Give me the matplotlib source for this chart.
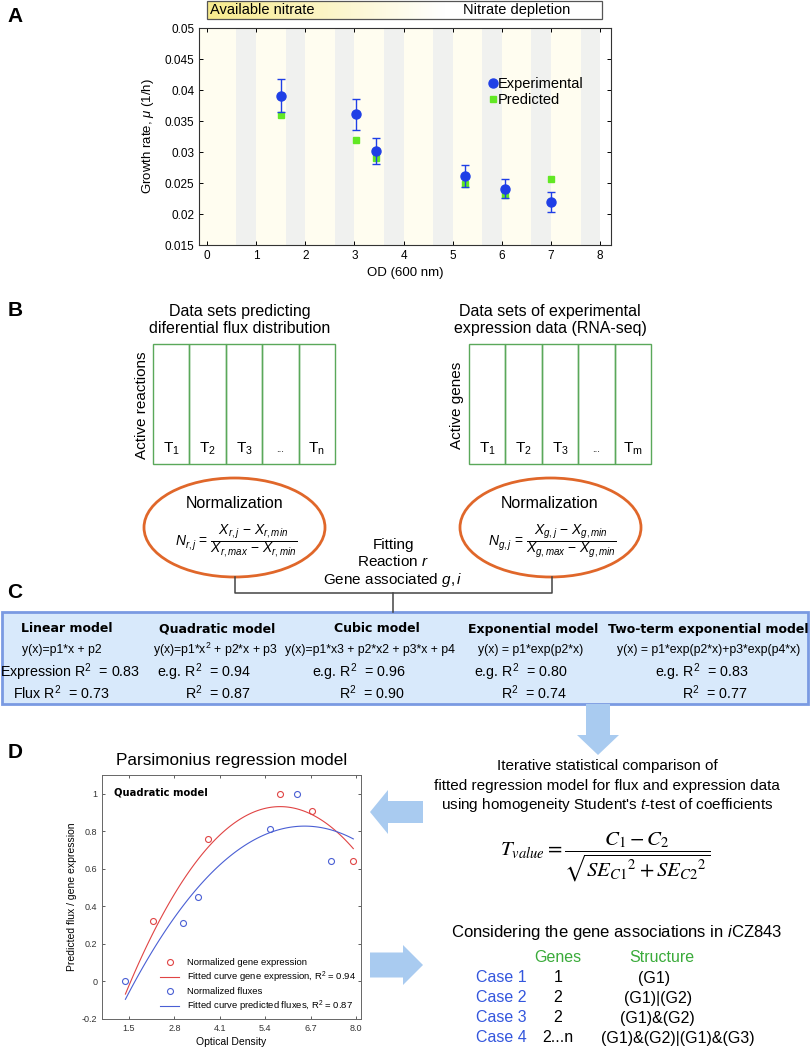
import numpy as np
import matplotlib
matplotlib.use('Agg')
import matplotlib.pyplot as plt
from matplotlib.patches import Rectangle, Ellipse, FancyArrow
from matplotlib.lines import Line2D

plt.rcParams['font.family'] = ['Liberation Sans', 'DejaVu Sans']
plt.rcParams['mathtext.fontset'] = 'custom'
plt.rcParams['mathtext.rm'] = 'Liberation Sans'
plt.rcParams['mathtext.it'] = 'Liberation Sans:italic'
plt.rcParams['mathtext.bf'] = 'Liberation Sans:bold'

# ---- panel A data (growth rate vs OD)
od = [1.5, 3.03, 3.44, 5.25, 6.07, 7.0]
mu_exp = [0.0391, 0.0361, 0.0301, 0.0261, 0.0241, 0.0220]
mu_err = [0.0027, 0.0025, 0.0021, 0.0018, 0.0015, 0.0016]
mu_pred = [0.0359, 0.0319, 0.0290, 0.0249, 0.0231, 0.0257]
a_xticks = [0, 1, 2, 3, 4, 5, 6, 7, 8]
a_yticks = [0.015, 0.02, 0.025, 0.03, 0.035, 0.04, 0.045, 0.05]
a_yticklabels = ['0.015', '0.02', '0.025', '0.03', '0.035', '0.04', '0.045', '0.05']

# ---- panel C models
model_names = ['Linear model', 'Quadratic model', 'Cubic model', 'Exponential model',
               'Two-term exponential model']
model_eqs = ['y(x)=p1*x + p2', 'y(x)=p1*x$^2$ + p2*x + p3', 'y(x)=p1*x3 + p2*x2 + p3*x + p4',
             'y(x) = p1*exp(p2*x)', 'y(x) = p1*exp(p2*x)+p3*exp(p4*x)']
r2_expr = [0.83, 0.94, 0.96, 0.80, 0.83]
r2_flux = [0.73, 0.87, 0.90, 0.74, 0.77]

# ---- panel D data (quadratic model)
gene_x = [2.19, 3.77, 5.81, 6.75, 7.91]
gene_y = [0.32, 0.76, 1.0, 0.91, 0.64]
flux_x = [1.38, 3.04, 3.49, 5.54, 6.32, 7.27]
flux_y = [0.0, 0.31, 0.45, 0.81, 1.0, 0.64]
# fitted curves
curve_x = [1.4, 2.8, 4.1, 5.4, 6.7, 7.92]
curve_gene = [-0.07, 0.47, 0.78, 0.92, 0.89, 0.71]
curve_flux = [-0.095, 0.34, 0.62, 0.785, 0.825, 0.76]
d_xticks = [1.5, 2.8, 4.1, 5.4, 6.7, 8.0]
d_yticks = [-0.2, 0, 0.2, 0.4, 0.6, 0.8, 1]

cases = ['Case 1', 'Case 2', 'Case 3', 'Case 4']
genes = ['1', '2', '2', '2...n']
structures = ['(G1)', '(G1)|(G2)', '(G1)&(G2)', '(G1)&(G2)|(G1)&(G3)']

W, H = 810, 1048
fig = plt.figure(figsize=(W / 100, H / 100), dpi=100)

# overlay in pixel coords (top-left origin) for the diagram parts
ov = fig.add_axes([0, 0, 1, 1])
ov.axis('off')

def ax_rect(x0, y0, x1, y1):
    return [x0 / W, 1 - y1 / H, (x1 - x0) / W, (y1 - y0) / H]

def letter(x, y, s):
    ov.text(x, y, s, fontsize=15, fontweight='bold', ha='center', va='center')

blue_a = '#1f3fe6'
green_a = '#62e824'

# ================= A =================
letter(15, 17, 'A')
grad = np.linspace(0, 1, 300)
fade = np.clip(grad / 0.6, 0, 1)
yel = np.array([0.97, 0.92, 0.55])
img = yel[None, :] * (1 - fade[:, None]) + fade[:, None]
ov.imshow(img[None, :, :], extent=(207, 602, 19, 1), aspect='auto', zorder=1)
ov.add_patch(Rectangle((207, 1), 395, 18, fill=False, ec='#555555', lw=0.9, zorder=2))
ov.text(210, 10, 'Available nitrate', fontsize=10.5, va='center', ha='left', zorder=3)
ov.text(517, 10, 'Nitrate depletion', fontsize=10.5, va='center', ha='center', zorder=3)

axA = fig.add_axes(ax_rect(199, 28, 611, 245))
for k in range(8):
    axA.axvspan(k - (0.16 if k == 0 else 0), k + 0.6, color='#fffdf0', lw=0, zorder=0)
    axA.axvspan(k + 0.6, k + 1.0, color='#f0f1ef', lw=0, zorder=0)
axA.plot(od, mu_pred, 's', color=green_a, ms=4.5, zorder=2)
axA.errorbar(od, mu_exp, yerr=mu_err, fmt='o', color=blue_a, ms=6.5, capsize=3,
             elinewidth=1, capthick=1, zorder=3)
axA.set_xlim(-0.16, 8.22)
axA.set_ylim(0.015, 0.05)
axA.set_xticks(a_xticks)
axA.set_yticks(a_yticks)
axA.set_yticklabels(a_yticklabels)
axA.tick_params(direction='in', top=True, right=True, labelsize=8.5, length=3, width=0.7)
for s in axA.spines.values():
    s.set_color('#333333')
    s.set_linewidth(0.8)
axA.set_xlabel('OD (600 nm)', fontsize=9.5, labelpad=4)
axA.set_ylabel('Growth rate, $\\mu$ (1/h)', fontsize=9.5, labelpad=6)
hA = [Line2D([], [], marker='o', ls='none', color=blue_a, ms=6.5),
      Line2D([], [], marker='s', ls='none', color=green_a, ms=4.5)]
axA.legend(hA, ['Experimental', 'Predicted'], frameon=False, fontsize=10.5,
           handlelength=0.5, handletextpad=0.1, labelspacing=0.15,
           loc='upper left', bbox_to_anchor=(0.69, 0.8), borderaxespad=0)

# ================= B =================
letter(15, 310, 'B')
ov.text(240, 320, 'Data sets predicting\ndiferential flux distribution', fontsize=11.5,
        ha='center', va='center', linespacing=1.15)
ov.text(550, 320, 'Data sets of experimental\nexpression data (RNA-seq)', fontsize=11.5,
        ha='center', va='center', linespacing=1.15)
cell_w = 36.4
tl_left = ['T$_1$', 'T$_2$', 'T$_3$', '...', 'T$_\\mathrm{n}$']
tl_right = ['T$_1$', 'T$_2$', 'T$_3$', '...', 'T$_\\mathrm{m}$']
for bx, labs in [(153, tl_left), (469, tl_right)]:
    for i in range(5):
        ov.add_patch(Rectangle((bx + i * cell_w, 344), cell_w, 120, fill=False,
                               ec='#5aa85a', lw=1))
        ov.text(bx + (i + 0.5) * cell_w, 449, labs[i], ha='center', va='center',
                fontsize=11 if labs[i] != '...' else 7)
ov.text(142, 405, 'Active reactions', rotation=90, ha='center', va='center', fontsize=11)
ov.text(457, 405, 'Active genes', rotation=90, ha='center', va='center', fontsize=11)

orange = '#e0672a'
ov.add_patch(Ellipse((234.5, 527.5), 181, 99, fill=False, ec=orange, lw=2))
ov.add_patch(Ellipse((550.5, 527.5), 181, 99, fill=False, ec=orange, lw=2))
ov.text(235, 503, 'Normalization', fontsize=11.5, ha='center', va='center')
ov.text(550, 503, 'Normalization', fontsize=11.5, ha='center', va='center')
ov.text(236, 541, r'$N_{r,j}$ = $\dfrac{X_{r,j}\ \mathrm{-}\ X_{r,min}}{X_{r,max}\ \mathrm{-}\ X_{r,min}}$',
        fontsize=10, ha='center', va='center')
ov.text(552, 541, r'$N_{g,j}$ = $\dfrac{X_{g,j}\ \mathrm{-}\ X_{g,min}}{X_{g,max}\ \mathrm{-}\ X_{g,min}}$',
        fontsize=10, ha='center', va='center')
ov.text(393, 545, 'Fitting', fontsize=11, ha='center', va='center')
ov.text(393, 562, 'Reaction $r$', fontsize=11, ha='center', va='center')
ov.text(393, 580, 'Gene associated $g,i$', fontsize=11, ha='center', va='center')
lc = '#444444'
ov.plot([235, 235, 552, 552], [577, 593, 593, 577], color=lc, lw=1.1)
ov.plot([393, 393], [593, 612], color=lc, lw=1.1)

# ================= C =================
letter(15, 593, 'C')
ov.add_patch(Rectangle((2, 612), 806, 92, fc='#d8e9fb', ec='#7a9ae2', lw=2, zorder=1))
title_x = [67, 217, 377, 533, 708]
eq_x = [62, 215, 370, 531, 709]
r2_right = [None, 251, 405, 567, 748]
for i in range(5):
    ov.text(title_x[i], 629, model_names[i], fontsize=9, fontweight='bold',
            family='DejaVu Sans', ha='center', va='center', zorder=3)
    ov.text(eq_x[i], 650, model_eqs[i], fontsize=8.8, ha='center', va='center', zorder=3)
    if i == 0:
        ov.text(70, 672, 'Expression R$^2$  = %.2f' % r2_expr[i], fontsize=10.3,
                ha='center', va='center', zorder=3)
        ov.text(61, 693, 'Flux R$^2$  = %.2f' % r2_flux[i], fontsize=10.3,
                ha='center', va='center', zorder=3)
    else:
        ov.text(r2_right[i], 672, 'e.g. R$^2$  = %.2f' % r2_expr[i], fontsize=10.3,
                ha='right', va='center', zorder=3)
        ov.text(r2_right[i], 693, 'R$^2$  = %.2f' % r2_flux[i], fontsize=10.3,
                ha='right', va='center', zorder=3)

arrow_c = '#a9cbf0'
ov.add_patch(FancyArrow(598, 704, 0, 51, width=24, head_width=42, head_length=20,
                        length_includes_head=True, fc=arrow_c, ec='none'))
ov.add_patch(FancyArrow(423, 812, -53, 0, width=22, head_width=44, head_length=18,
                        length_includes_head=True, fc=arrow_c, ec='none'))
ov.add_patch(FancyArrow(370, 965, 53, 0, width=25, head_width=40, head_length=20,
                        length_includes_head=True, fc=arrow_c, ec='none'))

# ================= D =================
letter(15, 752, 'D')
ov.text(232, 760, 'Parsimonius regression model', fontsize=12.3, ha='center', va='center')

red_d = '#e04444'
blue_d = '#4a5fd4'
axD = fig.add_axes(ax_rect(102, 775, 361, 1019))
xs = np.linspace(curve_x[0], curve_x[-1], 120)
pg = np.polyfit(curve_x, curve_gene, 2)
pf = np.polyfit(curve_x, curve_flux, 2)
axD.plot(gene_x, gene_y, 'o', mfc='none', mec=red_d, ms=4.3, mew=0.8)
axD.plot(xs, np.polyval(pg, xs), color=red_d, lw=0.8)
axD.plot(flux_x, flux_y, 'o', mfc='none', mec=blue_d, ms=4.3, mew=0.8)
axD.plot(xs, np.polyval(pf, xs), color=blue_d, lw=0.8)
axD.set_xlim(0.73, 8.14)
axD.set_ylim(-0.2, 1.1)
axD.set_xticks(d_xticks)
axD.set_xticklabels(['%.1f' % v for v in d_xticks])
axD.set_yticks(d_yticks)
axD.set_yticklabels(['-0.2', '0', '0.2', '0.4', '0.6', '0.8', '1'])
axD.tick_params(direction='in', top=True, right=True, labelsize=6.5, length=2.5,
                width=0.6, colors='#444444', labelcolor='#333333')
for s in axD.spines.values():
    s.set_color('#666666')
    s.set_linewidth(0.7)
axD.set_xlabel('Optical Density', fontsize=7.5, labelpad=3)
axD.set_ylabel('Predicted flux / gene expression', fontsize=7.5, labelpad=3)
axD.text(0.045, 0.93, 'Quadratic model', transform=axD.transAxes, fontsize=7.2,
         fontweight='bold', family='DejaVu Sans', va='center')
hD = [Line2D([], [], marker='o', ls='none', mfc='none', mec=red_d, ms=4.3, mew=0.8),
      Line2D([], [], color=red_d, lw=0.8),
      Line2D([], [], marker='o', ls='none', mfc='none', mec=blue_d, ms=4.3, mew=0.8),
      Line2D([], [], color=blue_d, lw=0.8)]
axD.legend(hD, ['Normalized gene expression', 'Fitted curve gene expression, R$^2$ = 0.94',
                'Normalized fluxes', 'Fitted curve predicted fluxes, R$^2$ = 0.87'],
           frameon=False, fontsize=6.8, loc='lower right', borderaxespad=0.15,
           handlelength=2.0, labelspacing=0.25)

ov.text(607, 766, 'Iterative statistical comparison of', fontsize=11, ha='center', va='center')
ov.text(607, 786, 'fitted regression model for flux and expression data', fontsize=11,
        ha='center', va='center')
ov.text(607, 805, "using homogeneity Student's $t$-test of coefficients", fontsize=11,
        ha='center', va='center')
ov.text(605, 857, r'$T_{value} = \dfrac{C_1 - C_2}{\sqrt{{SE_{C1}}^2 + {SE_{C2}}^2}}$',
        fontsize=15, ha='center', va='center', math_fontfamily='stix')

ov.text(617, 933, 'Considering the gene associations in $i$CZ843', fontsize=12,
        ha='center', va='center')
green_t = '#3aab3a'
blue_t = '#3356dd'
ov.text(558, 958, 'Genes', fontsize=11.5, color=green_t, ha='center', va='center')
ov.text(662, 958, 'Structure', fontsize=11.5, color=green_t, ha='center', va='center')
struct_x = [654, 658, 657, 678]
for i in range(4):
    y = 978 + i * 20
    ov.text(501, y, cases[i], fontsize=11.5, color=blue_t, ha='center', va='center')
    ov.text(558, y, genes[i], fontsize=11.5, ha='center', va='center')
    ov.text(struct_x[i], y, structures[i], fontsize=11.5, ha='center', va='center')

ov.set_xlim(0, W)
ov.set_ylim(H, 0)

fig.savefig('out.png', dpi=100)
